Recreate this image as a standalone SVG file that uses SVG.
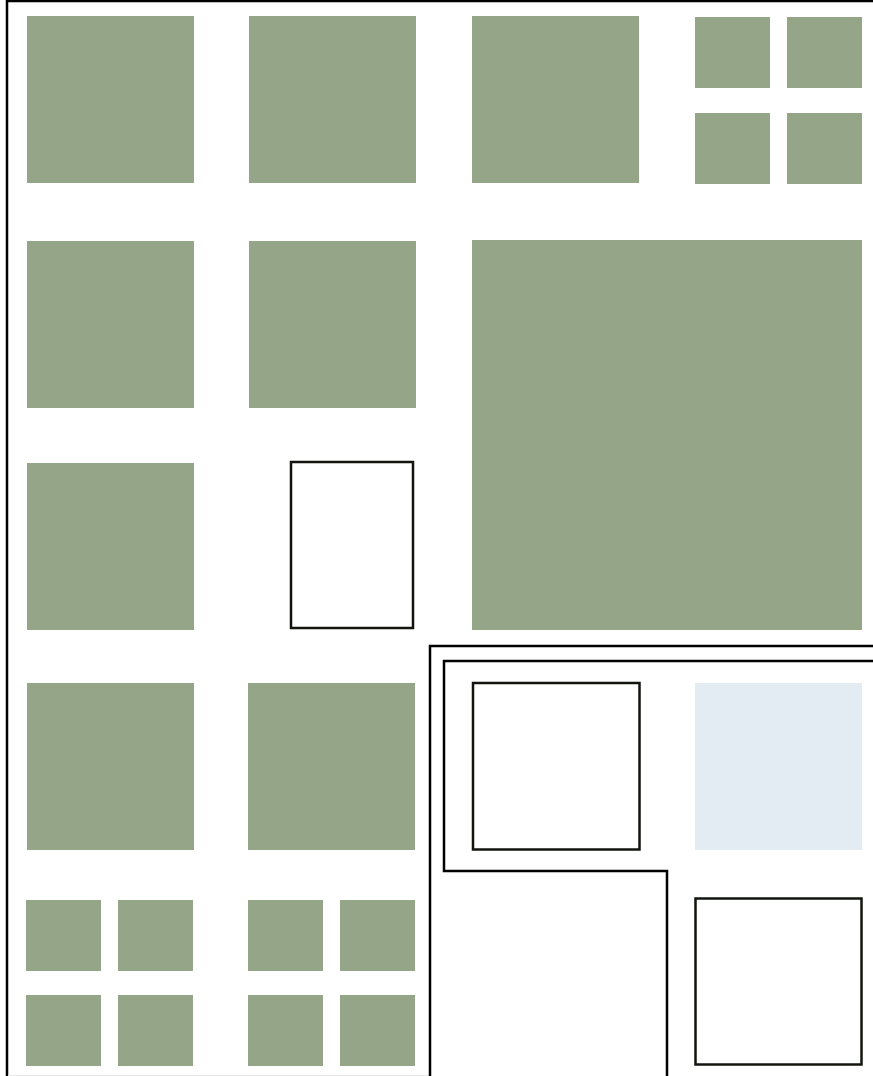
<svg xmlns="http://www.w3.org/2000/svg" width="873" height="1076" viewBox="0 0 873 1076">
<style>
.g{fill:#95a587}
.o{fill:none;stroke:#000;stroke-width:2.5}
.b{fill:#fff;stroke:#12150e;stroke-width:2.5}
</style>
<rect width="873" height="1076" fill="#fff"/>
<g id="frame">
<path class="o" d="M7 1076 V1 H873"/>
<line x1="8" y1="1075.5" x2="429" y2="1075.5" stroke="#e8e8e8" stroke-width="1"/>
</g>
<g id="n1"><rect class="g" x="27" y="16" width="167" height="167"/></g>
<g id="n2"><rect class="g" x="249" y="16" width="167" height="167"/></g>
<g id="n3"><rect class="g" x="472" y="16" width="167" height="167"/></g>
<g id="n4">
<rect class="g" x="695" y="17" width="75" height="71"/>
<rect class="g" x="787" y="17" width="75" height="71"/>
<rect class="g" x="695" y="113" width="75" height="71"/>
<rect class="g" x="787" y="113" width="75" height="71"/>
</g>
<g id="n5"><rect class="g" x="27" y="241" width="167" height="167"/></g>
<g id="n6"><rect class="g" x="249" y="241" width="167" height="167"/></g>
<g id="n7"><rect class="g" x="472" y="240" width="390" height="390"/></g>
<g id="n8"><rect class="g" x="27" y="463" width="167" height="167"/></g>
<g id="n9"><rect class="b" x="291" y="462" width="122" height="166"/></g>
<g id="n10"><rect class="g" x="27" y="683" width="167" height="167"/></g>
<g id="n11"><rect class="g" x="248" y="683" width="167" height="167"/></g>
<g id="n12">
<rect class="g" x="26" y="900" width="75" height="71"/>
<rect class="g" x="118" y="900" width="75" height="71"/>
<rect class="g" x="26" y="995" width="75" height="71"/>
<rect class="g" x="118" y="995" width="75" height="71"/>
</g>
<g id="n13">
<rect class="g" x="248" y="900" width="75" height="71"/>
<rect class="g" x="340" y="900" width="75" height="71"/>
<rect class="g" x="248" y="995" width="75" height="71"/>
<rect class="g" x="340" y="995" width="75" height="71"/>
</g>
<g id="region">
<path class="o" d="M430 1076 V646 H873"/>
<path class="o" d="M873 661 H444 V871 H667 V1076"/>
</g>
<g id="n14"><rect class="b" x="473" y="683" width="166.5" height="166.5"/></g>
<g id="n15"><rect fill="#e3ecf2" x="695" y="683" width="167" height="167"/></g>
<g id="n16"><rect class="b" x="695.5" y="898.5" width="166" height="166"/></g>
<g id="connectors"/>
</svg>
